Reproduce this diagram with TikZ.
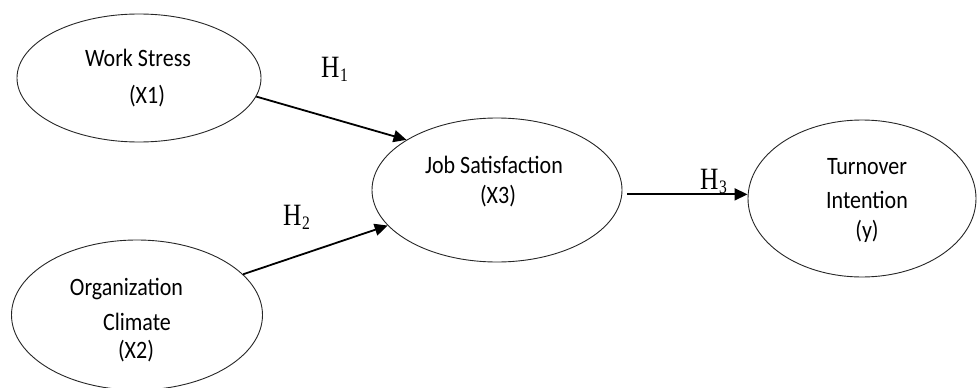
\documentclass[tikz,border=0pt]{standalone}
\usepackage{fontspec}
\newfontfamily\calfont{Carlito}[FakeStretch=0.88]
\newfontfamily\hfont{Liberation Serif}[FakeStretch=0.82]
\usetikzlibrary{shapes.geometric,arrows.meta}
\begin{document}
\begin{tikzpicture}[x=1pt,y=-1pt,
  latent/.style={draw=black!85, ellipse, line width=0.9pt, inner sep=0pt},
  txt/.style={font=\calfont\fontsize{25}{25}\selectfont, anchor=base, inner sep=0pt},
  hyp/.style={font=\hfont\fontsize{31}{31}\selectfont, anchor=base west, inner sep=0pt},
  relpath/.style={line width=1.8pt, -{Triangle[length=13pt,width=12pt]}}]
\useasboundingbox (0,0) rectangle (977,388);
% latent variables
\node[latent, minimum width=244pt, minimum height=128pt] (ws) at (139,78) {};
\node[latent, minimum width=251pt, minimum height=150pt] (oc) at (137,315) {};
\node[latent, minimum width=250pt, minimum height=144pt] (js) at (497,190) {};
\node[latent, minimum width=228pt, minimum height=157pt] (to) at (862,198.5) {};
% texts
\node[txt] (ws1) at (138,66) {Work Stress};
\node[txt] (ws2) at (147,103) {(X1)};
\node[txt] (oc1) at (126.5,295) {Organization};
\node[txt] (oc2) at (137,330) {Climate};
\node[txt] (oc3) at (136,358) {(X2)};
\node[txt] (js1) at (494,173) {Job Satisfaction};
\node[txt] (js2) at (498,203) {(X3)};
\node[txt] (to1) at (867,174) {Turnover};
\node[txt] (to2) at (867,208) {Intention};
\node[txt] (to3) at (867,238) {(y)};
% hypotheses
\node[hyp] (h1) at (321,77) {H\kern0.5pt\raisebox{-4pt}{\fontsize{19}{19}\selectfont 1}};
\node[hyp] (h2) at (283,225) {H\kern0.5pt\raisebox{-4pt}{\fontsize{19}{19}\selectfont 2}};
\node[hyp] (h3) at (700,189) {H\kern0.5pt\raisebox{-4pt}{\fontsize{19}{19}\selectfont 3}};
% paths
\draw[relpath] (ws.-9.5) -- (js.151.8);
\draw[relpath] (oc.21) -- (js.-162);
\draw[relpath, shorten <=5pt] (js.-2.7) -- (js.-2.7 -| to.west);
\end{tikzpicture}
\end{document}
